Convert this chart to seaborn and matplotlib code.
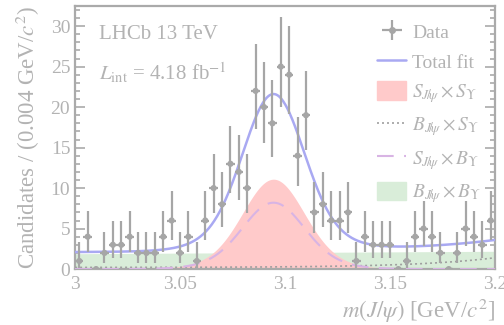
import numpy as np
import matplotlib
matplotlib.use("Agg")
import matplotlib.pyplot as plt
import matplotlib.patches as mpatches
import matplotlib.lines as mlines
from matplotlib.ticker import MultipleLocator
import seaborn as sns
import pandas as pd
from math import exp, lgamma, log

# ---------------- data ----------------
counts = [1, 4, 0, 2, 3, 3, 4, 2, 2, 2,
          4, 6, 2, 4, 1, 6, 10, 8, 13, 12,
          10, 22, 20, 18, 25, 24, 14, 19, 7, 8,
          6, 6, 7, 1, 4, 3, 3, 3, 0, 1,
          4, 5, 4, 2, 0, 2, 5, 4, 3, 6]
x_lo, x_hi = 3.0, 3.2
bin_width = 0.004
x_ticks = [3.0, 3.05, 3.1, 3.15, 3.2]
x_tick_labels = ["3", "3.05", "3.1", "3.15", "3.2"]
y_ticks = [0, 5, 10, 15, 20, 25, 30]

# fit model parameters
peak_mu = 3.0945
core_sigma, wide_sigma, core_frac = 0.0140, 0.0220, 0.80
ss_peak = 11.1      # S_J/psi x S_Upsilon
sb_peak = 8.2       # S_J/psi x B_Upsilon
bb_left, bb_right = 1.9, 2.2          # B x B (linear)
bs_base, bs_amp, bs_slope = 0.2, 1.2, 26.7   # B x S (exponential rise)

# ---------------- helpers ----------------
def pois_cdf(k, mu):
    if mu <= 0:
        return 1.0
    s = 0.0
    for i in range(k + 1):
        s += exp(-mu + i * log(mu) - lgamma(i + 1))
    return s

def garwood(n, a=0.158655):
    if n == 0:
        return 0.0, 0.0
    lo, hi = 0.0, n + 50.0
    for _ in range(80):
        m = 0.5 * (lo + hi)
        if 1 - pois_cdf(n - 1, m) < a:
            lo = m
        else:
            hi = m
    low = 0.5 * (lo + hi)
    lo, hi = n, n + 50.0
    for _ in range(80):
        m = 0.5 * (lo + hi)
        if pois_cdf(n, m) > a:
            lo = m
        else:
            hi = m
    up = 0.5 * (lo + hi)
    return n - low, up - n

centers = x_lo + bin_width * (np.arange(len(counts)) + 0.5)
errs = np.array([garwood(n) for n in counts]).T
data_df = pd.DataFrame({"m": centers, "n": counts})

xs = np.linspace(x_lo, x_hi, 600)
shape = (core_frac * np.exp(-0.5 * ((xs - peak_mu) / core_sigma) ** 2)
         + (1 - core_frac) * np.exp(-0.5 * ((xs - peak_mu) / wide_sigma) ** 2))
ss = ss_peak * shape
sb = sb_peak * shape
bb = bb_left + (bb_right - bb_left) * (xs - x_lo) / (x_hi - x_lo)
bs = bs_base + bs_amp * np.exp(bs_slope * (xs - x_hi))
total = ss + sb + bb + bs
curves = pd.DataFrame({"m": xs, "total": total, "ss": ss, "sb": sb, "bb": bb, "bs": bs})

# ---------------- style ----------------
sns.set_theme(style="ticks")
plt.rcParams["font.family"] = ["Liberation Serif", "DejaVu Serif"]
plt.rcParams["mathtext.fontset"] = "stix"

grey = "#aaaaaa"
txt = "#b3b3b3"
c_data = "#a6a6a6"
c_total = "#a9a9f2"
c_ss = "#ffcaca"
c_bb = "#d9edd9"
c_sb = "#d8b4e4"
c_bs = "#a0a0a0"

fig = plt.figure(figsize=(5.04, 3.25), dpi=100)
ax = fig.add_axes([0.149, 0.172, 0.833, 0.810])

ax.fill_between(curves["m"], 0, curves["bb"], color=c_bb, lw=0, zorder=1)
ax.fill_between(curves["m"], 0, curves["ss"], color=c_ss, lw=0, zorder=2)
sns.lineplot(data=curves, x="m", y="bs", ax=ax, color=c_bs, lw=1.2, ls=(0, (1.2, 1.8)), zorder=3)
sns.lineplot(data=curves, x="m", y="sb", ax=ax, color=c_sb, lw=1.5, ls=(0, (8, 5)), zorder=4)
sns.lineplot(data=curves, x="m", y="total", ax=ax, color=c_total, lw=1.8, zorder=5)

ax.errorbar(data_df["m"], data_df["n"], yerr=errs, xerr=bin_width / 2,
            fmt="none", ecolor=c_data, elinewidth=1.6, capsize=0, zorder=6)
sns.scatterplot(data=data_df, x="m", y="n", ax=ax, color=c_data, s=20,
                edgecolor="none", zorder=7)

ax.set_xlim(x_lo, x_hi)
ax.set_ylim(0, 32.5)
ax.set_xticks(x_ticks)
ax.set_xticklabels(x_tick_labels)
ax.set_yticks(y_ticks)
ax.xaxis.set_minor_locator(MultipleLocator(0.01))
ax.yaxis.set_minor_locator(MultipleLocator(1))
ax.tick_params(which="both", direction="in", colors=grey, labelcolor=txt,
               labelsize=14, right=True, top=False, width=1.2)
ax.tick_params(which="major", length=7)
ax.tick_params(which="minor", length=3.5)
ax.tick_params(axis="x", pad=5)
for sp in ax.spines.values():
    sp.set_color(grey)
    sp.set_linewidth(1.6)

ax.set_xlabel(r"$m(J/\psi)$ [GeV/$c^2$]", fontsize=16.5, color=txt, loc="right", labelpad=3)
ax.set_ylabel(r"Candidates / (0.004 GeV/$c^2$)", fontsize=16.5, color=txt, loc="top", labelpad=6)

ax.text(0.058, 0.89, "LHCb 13 TeV", transform=ax.transAxes, fontsize=15, color=txt, va="center")
ax.text(0.058, 0.745, r"$L_{\rm int}$ = 4.18 fb$^{-1}$", transform=ax.transAxes,
        fontsize=15, color=txt, va="center")

h_data = ax.errorbar([], [], yerr=[], xerr=[], fmt="o", ms=4, color=c_data, ecolor=c_data, elinewidth=1.6)
h_total = mlines.Line2D([], [], color=c_total, lw=1.8)
h_ss = mpatches.Patch(color=c_ss)
h_bs = mlines.Line2D([], [], color=c_bs, lw=1.2, ls=(0, (1.2, 1.8)))
h_sb = mlines.Line2D([], [], color=c_sb, lw=1.5, ls=(0, (8, 5)))
h_bb = mpatches.Patch(color=c_bb)
labels = ["Data", "Total fit",
          r"$S_{J\!/\!\psi}\times S_{\Upsilon}$",
          r"$B_{J\!/\!\psi}\times S_{\Upsilon}$",
          r"$S_{J\!/\!\psi}\times B_{\Upsilon}$",
          r"$B_{J\!/\!\psi}\times B_{\Upsilon}$"]
leg = ax.legend([h_data, h_total, h_ss, h_bs, h_sb, h_bb], labels,
                loc="upper right", bbox_to_anchor=(1.0, 0.99), frameon=False,
                fontsize=14, handlelength=1.5, handleheight=1.1, handletextpad=0.3,
                labelspacing=0.5, borderaxespad=0.3)
for t in leg.get_texts():
    t.set_color(txt)

fig.savefig("out.png", dpi=100)
